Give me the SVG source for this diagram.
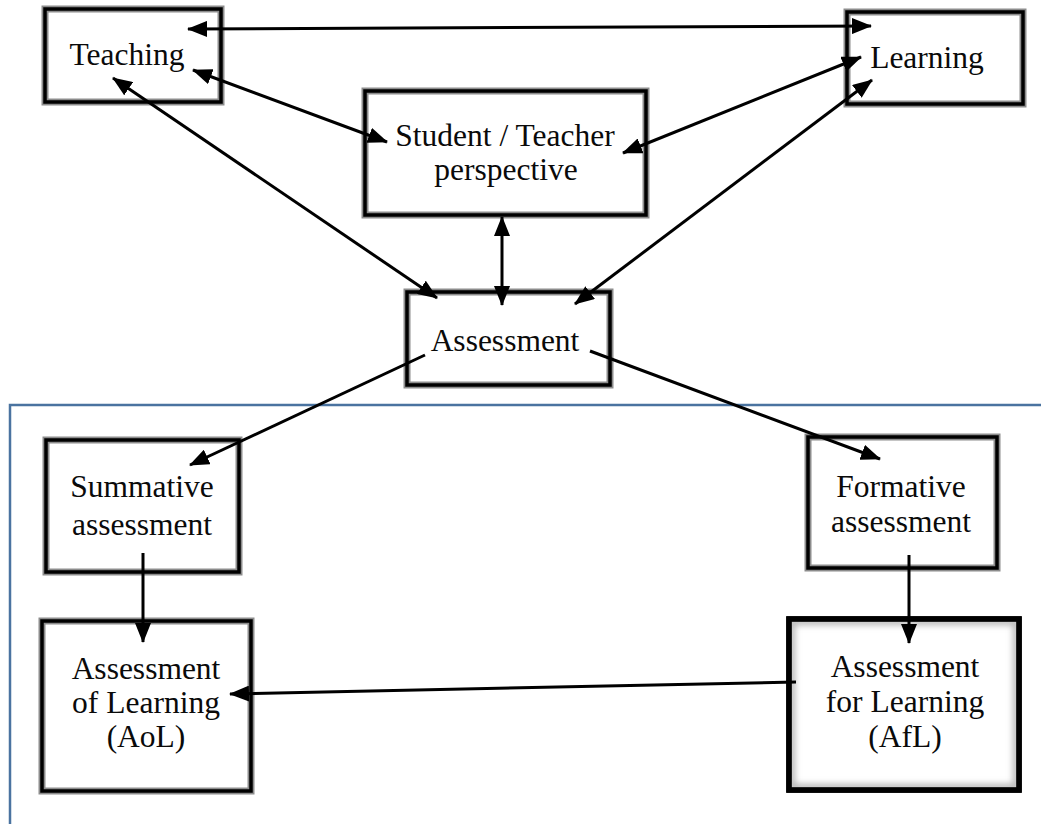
<svg xmlns="http://www.w3.org/2000/svg" width="1041" height="824" viewBox="0 0 1041 824">
<style>
.bg{fill:#ffffff}
.box-o{fill:#ffffff;stroke:#8c8c8c;stroke-width:7}
.box-i{fill:none;stroke:#000000;stroke-width:3.5}
.thick{fill:#ffffff;stroke:#000000;stroke-width:5.5}
.lbl{font-family:"Liberation Serif","Times New Roman",serif;font-size:31.5px;fill:#0a0a0a;text-anchor:middle}
.con{stroke:#000000;stroke-width:3;fill:none}
.frame{stroke:#4a73a0;stroke-width:2.5;fill:none}
</style>
<defs>
<marker id="ah" markerUnits="userSpaceOnUse" markerWidth="20" markerHeight="16" refX="19" refY="8" orient="auto-start-reverse" viewBox="0 0 20 16">
<path d="M0,0 L20,8 L0,16 z" fill="#000000"/>
</marker>
<filter id="glow" x="-10%" y="-10%" width="120%" height="120%">
<feGaussianBlur stdDeviation="3"/>
</filter>
<clipPath id="afl-clip"><rect x="790" y="620" width="228" height="169"/></clipPath>
</defs>
<rect class="bg" x="0" y="0" width="1041" height="824"/>

<g id="frame">
<path class="frame" d="M10,824 L10,405 L1041,405"/>
</g>

<g id="teaching">
<rect class="box-o" x="45" y="9" width="176" height="93"/>
<rect class="box-i" x="45" y="9" width="176" height="93"/>
<text class="lbl" x="127" y="65">Teaching</text>
</g>

<g id="learning">
<rect class="box-o" x="847" y="12" width="176" height="92"/>
<rect class="box-i" x="847" y="12" width="176" height="92"/>
<text class="lbl" x="927" y="68">Learning</text>
</g>

<g id="perspective">
<rect class="box-o" x="365" y="91" width="281" height="124"/>
<rect class="box-i" x="365" y="91" width="281" height="124"/>
<text class="lbl" x="505" y="146">Student / Teacher</text>
<text class="lbl" x="506" y="180">perspective</text>
</g>

<g id="assessment">
<rect class="box-o" x="407" y="292" width="203" height="93"/>
<rect class="box-i" x="407" y="292" width="203" height="93"/>
<text class="lbl" x="505" y="351">Assessment</text>
</g>

<g id="summative">
<rect class="box-o" x="46" y="440" width="193" height="132"/>
<rect class="box-i" x="46" y="440" width="193" height="132"/>
<text class="lbl" x="142" y="497">Summative</text>
<text class="lbl" x="142" y="535">assessment</text>
</g>

<g id="formative">
<rect class="box-o" x="808" y="437" width="189" height="131"/>
<rect class="box-i" x="808" y="437" width="189" height="131"/>
<text class="lbl" x="901" y="497">Formative</text>
<text class="lbl" x="901" y="532">assessment</text>
</g>

<g id="aol">
<rect class="box-o" x="42" y="621" width="209" height="170"/>
<rect class="box-i" x="42" y="621" width="209" height="170"/>
<text class="lbl" x="146" y="679">Assessment</text>
<text class="lbl" x="146" y="713">of Learning</text>
<text class="lbl" x="146" y="747">(AoL)</text>
</g>

<g id="afl">
<rect class="thick" x="789" y="619" width="230" height="171"/>
<rect x="792" y="622" width="224" height="165" fill="none" stroke="#b0b0b0" stroke-width="6" filter="url(#glow)" clip-path="url(#afl-clip)"/>
<rect x="789" y="619" width="230" height="171" fill="none" stroke="#000000" stroke-width="5.5"/>
<text class="lbl" x="905" y="677">Assessment</text>
<text class="lbl" x="905" y="712">for Learning</text>
<text class="lbl" x="905" y="747">(AfL)</text>
</g>

<g id="connectors">
<line class="con" x1="188" y1="29" x2="871" y2="26" marker-start="url(#ah)" marker-end="url(#ah)"/>
<line class="con" x1="193" y1="70" x2="387" y2="142" marker-start="url(#ah)" marker-end="url(#ah)"/>
<line class="con" x1="113" y1="78" x2="437" y2="298" marker-start="url(#ah)" marker-end="url(#ah)"/>
<line class="con" x1="861" y1="57" x2="623" y2="153" marker-start="url(#ah)" marker-end="url(#ah)"/>
<line class="con" x1="872" y1="80" x2="575" y2="304" marker-start="url(#ah)" marker-end="url(#ah)"/>
<line class="con" x1="502" y1="217" x2="502" y2="305" marker-start="url(#ah)" marker-end="url(#ah)"/>
<line class="con" x1="425" y1="355" x2="190" y2="465" marker-end="url(#ah)"/>
<line class="con" x1="590" y1="351" x2="880" y2="459" marker-end="url(#ah)"/>
<line class="con" x1="143" y1="553" x2="143" y2="642" marker-end="url(#ah)"/>
<line class="con" x1="909" y1="555" x2="909" y2="643" marker-end="url(#ah)"/>
<line class="con" x1="796" y1="682" x2="230" y2="694" marker-end="url(#ah)"/>
</g>
</svg>
